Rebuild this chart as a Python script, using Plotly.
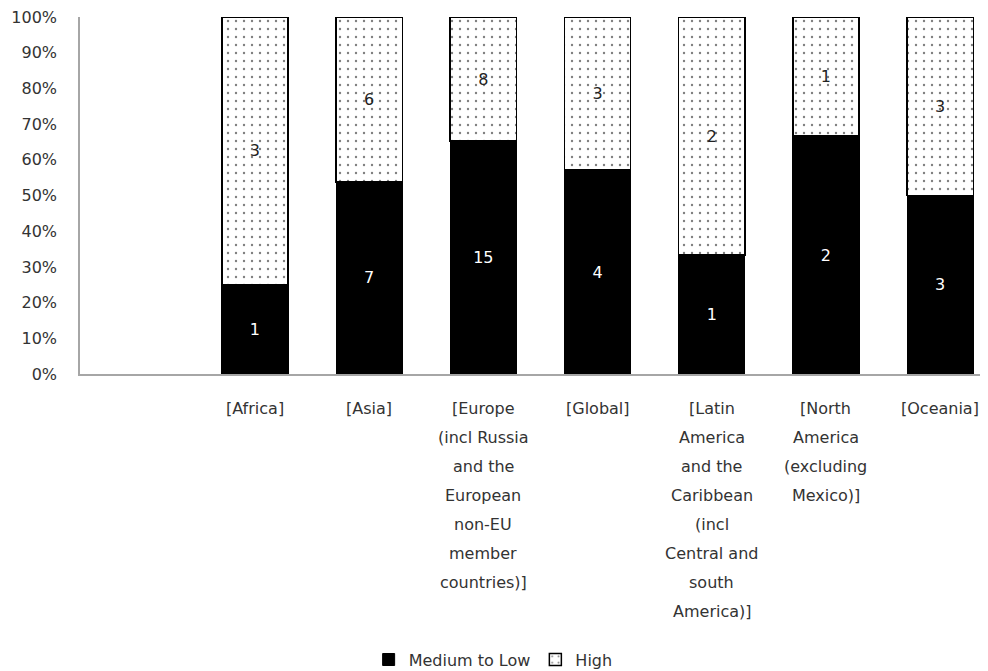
import plotly.graph_objects as go

categories = ["[Africa]", "[Asia]",
              "[Europe\n(incl Russia\nand the\nEuropean\nnon-EU\nmember\ncountries)]",
              "[Global]",
              "[Latin\nAmerica\nand the\nCaribbean\n(incl\nCentral and\nsouth\nAmerica)]",
              "[North\nAmerica\n(excluding\nMexico)]",
              "[Oceania]"]
medium_low = [1, 7, 15, 4, 1, 2, 3]
high = [3, 6, 8, 3, 2, 1, 3]
y_ticks = [0, 10, 20, 30, 40, 50, 60, 70, 80, 90, 100]

x_idx = list(range(len(categories)))
FONT = "DejaVu Sans"
TXT = "#333333"

fig = go.Figure()
fig.add_trace(go.Bar(
    x=x_idx, y=medium_low, name="Medium to Low",
    marker=dict(color="black", line=dict(color="black", width=1)),
    text=[str(v) for v in medium_low], textposition="inside",
    insidetextanchor="middle", textangle=0,
    textfont=dict(color="white", size=16, family=FONT),
))
fig.add_trace(go.Bar(
    x=x_idx, y=high, name="High",
    marker=dict(color="white", line=dict(color="black", width=1.5),
                pattern=dict(shape=".", fgcolor="black", bgcolor="white",
                             size=8, solidity=0.07)),
    text=[str(v) for v in high], textposition="inside",
    insidetextanchor="middle", textangle=0,
    textfont=dict(color="#222222", size=16, family=FONT),
))

# multi-line category labels
for i, lab in enumerate(categories):
    for j, line in enumerate(lab.split("\n")):
        fig.add_annotation(x=i, y=0, xref="x", yref="paper", text=line,
                           showarrow=False, yanchor="middle",
                           yshift=-34 - 29 * j,
                           font=dict(size=16, family=FONT, color=TXT))

fig.update_layout(
    barmode="stack", barnorm="percent", bargap=0.42,
    width=980, height=663,
    margin=dict(l=72, r=0, t=9, b=297, autoexpand=False),
    plot_bgcolor="white", paper_bgcolor="white",
    font=dict(family=FONT, size=16, color=TXT),
    showlegend=True,
    legend=dict(orientation="h", x=0.455, xanchor="center", y=-0.8,
                yanchor="middle", font=dict(size=16, family=FONT, color=TXT),
                itemwidth=30, traceorder="normal"),
)
fig.update_xaxes(range=[-1.532, 6.419], showticklabels=False, ticks="",
                 showline=True, linecolor="#a6a6a6", linewidth=1.5,
                 showgrid=False, zeroline=False, fixedrange=True)
fig.update_yaxes(range=[0, 100], tickvals=y_ticks,
                 ticktext=[f"{v}%" for v in y_ticks],
                 showline=True, linecolor="#a6a6a6", linewidth=1.5,
                 showgrid=False, zeroline=False, ticks="", ticklabelstandoff=18,
                 ticklabeloverflow="allow", automargin=False,
                 tickfont=dict(size=16, family=FONT, color=TXT))

fig.write_html("out.html")
